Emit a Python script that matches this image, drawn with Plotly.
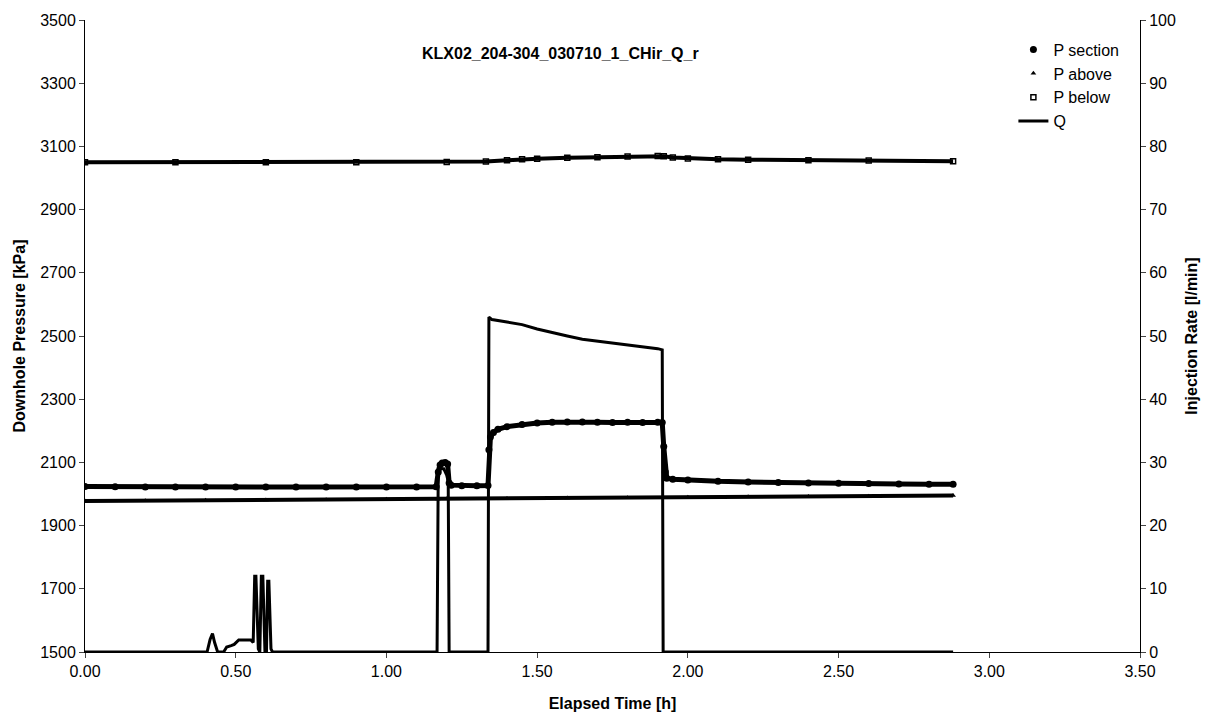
import plotly.graph_objects as go

# ---- data ----
ps_t = [0, 0.1, 0.2, 0.3, 0.4, 0.5, 0.6, 0.7, 0.8, 0.9, 1.0, 1.1, 1.165, 1.172, 1.178, 1.185, 1.195,
        1.203, 1.208, 1.215, 1.25, 1.3, 1.337, 1.340, 1.345, 1.355, 1.37, 1.4, 1.45, 1.5, 1.55, 1.6,
        1.65, 1.7, 1.75, 1.8, 1.85, 1.9, 1.915, 1.92, 1.925, 1.93, 1.95, 2.0, 2.1, 2.2, 2.3, 2.4,
        2.5, 2.6, 2.7, 2.8, 2.88]
ps_p = [2024, 2023, 2022, 2022, 2022, 2022, 2022, 2022, 2022, 2022, 2022, 2022, 2023, 2070, 2092, 2098, 2100,
        2095, 2035, 2028, 2026, 2026, 2027, 2140, 2180, 2195, 2205, 2213, 2220, 2225, 2227, 2228,
        2228, 2227, 2226, 2227, 2226, 2227, 2226, 2150, 2070, 2050, 2047, 2044, 2040, 2038, 2036, 2035,
        2034, 2033, 2032, 2031, 2031]

pa_t = [0, 0.2, 0.4, 0.6, 0.8, 1.0, 1.17, 1.2, 1.4, 1.6, 1.8, 2.0, 2.2, 2.4, 2.6, 2.88]
pa_p = [1978, 1979, 1980, 1981, 1982, 1983, 1984, 1985, 1986, 1987, 1988, 1990, 1991, 1992, 1993, 1995]

pb_t = [0, 0.3, 0.6, 0.9, 1.2, 1.33, 1.4, 1.45, 1.5, 1.6, 1.7, 1.8, 1.9, 1.92, 1.95, 2.0, 2.1, 2.2,
        2.4, 2.6, 2.88]
pb_p = [3050, 3050, 3050, 3050, 3051, 3052, 3056, 3059, 3061, 3064, 3066, 3068, 3070, 3069, 3065, 3062,
        3059, 3058, 3056, 3055, 3053]

q_t = [0, 0.405, 0.415, 0.423, 0.43, 0.44, 0.46, 0.47, 0.485, 0.495, 0.51, 0.55, 0.558, 0.563, 0.567,
       0.575, 0.58, 0.585, 0.59, 0.597, 0.602, 0.606, 0.61, 0.617, 0.622, 1.168, 1.172, 1.19, 1.2,
       1.205, 1.208, 1.337, 1.34, 1.35, 1.4, 1.45, 1.5, 1.55, 1.6, 1.65, 1.7, 1.75, 1.8, 1.85, 1.9,
       1.915, 1.918, 2.88]
q_v = [0, 0, 2.0, 2.9, 1.5, 0, 0, 0.8, 1.0, 1.2, 1.9, 1.9, 1.5, 12, 12,
       0.5, 0, 12, 12, 0, 0, 11.2, 11.2, 0.5, 0, 0, 29, 29, 28,
       27, 0, 0, 53, 52.6, 52.2, 51.8, 51.1, 50.5, 50.0, 49.5, 49.2, 48.9, 48.7, 48.4, 48.0,
       47.8, 0, 0]

title_text = "KLX02_204-304_030710_1_CHir_Q_r"

FONT = "Arial, 'Liberation Sans', sans-serif"

fig = go.Figure()
# data traces (legend shown via marker-only entries below, as in the reference)
fig.add_trace(go.Scatter(x=ps_t, y=ps_p, name="P section", mode="lines+markers", showlegend=False,
                         line=dict(color="black", width=5),
                         marker=dict(symbol="circle", size=7, color="black")))
fig.add_trace(go.Scatter(x=pa_t, y=pa_p, name="P above", mode="lines+markers", showlegend=False,
                         line=dict(color="black", width=4),
                         marker=dict(symbol="triangle-up", size=5, color="black")))
fig.add_trace(go.Scatter(x=pb_t, y=pb_p, name="P below", mode="lines+markers", showlegend=False,
                         line=dict(color="black", width=4),
                         marker=dict(symbol="square-open", size=5, color="black", line=dict(width=1.5))))
# legend entries
fig.add_trace(go.Scatter(x=[None], y=[None], name="P section", mode="markers",
                         marker=dict(symbol="circle", size=7, color="black")))
fig.add_trace(go.Scatter(x=[None], y=[None], name="P above", mode="markers",
                         marker=dict(symbol="triangle-up", size=5, color="black")))
fig.add_trace(go.Scatter(x=[None], y=[None], name="P below", mode="markers",
                         marker=dict(symbol="square-open", size=5, color="black", line=dict(width=1.5))))
fig.add_trace(go.Scatter(x=q_t, y=q_v, name="Q", mode="lines", yaxis="y2",
                         line=dict(color="black", width=3)))

fig.update_layout(
    width=1215, height=720,
    margin=dict(l=85, r=75, t=20, b=68),
    paper_bgcolor="white", plot_bgcolor="white",
    font=dict(family=FONT, size=16, color="black"),
    showlegend=True,
    legend=dict(x=0.88, y=0.98, xanchor="left", yanchor="top", bgcolor="rgba(0,0,0,0)",
                font=dict(size=16), tracegroupgap=0, itemwidth=30),
    xaxis=dict(range=[0, 3.5], tick0=0, dtick=0.5, tickformat=".2f", showgrid=False, zeroline=False,
               showline=True, linecolor="black", linewidth=1, ticks="outside", ticklen=5,
               title=dict(text="<b>Elapsed Time [h]</b>", font=dict(size=16), standoff=18)),
    yaxis=dict(range=[1500, 3500], tick0=1500, dtick=200, showgrid=False, zeroline=False,
               showline=True, linecolor="black", linewidth=1, ticks="outside", ticklen=5,
               title=dict(text="<b>Downhole Pressure [kPa]</b>", font=dict(size=16), standoff=10)),
    yaxis2=dict(range=[0, 100], tick0=0, dtick=10, overlaying="y", side="right", showgrid=False,
                zeroline=False, showline=True, linecolor="black", linewidth=1, ticks="outside",
                ticklen=5,
                title=dict(text="<b>Injection Rate [l/min]</b>", font=dict(size=16), standoff=10)),
)

fig.add_annotation(text="<b>" + title_text + "</b>", xref="paper", yref="paper",
                   x=0.451, y=0.947, xanchor="center", yanchor="middle", showarrow=False,
                   font=dict(size=16, family=FONT))

fig.write_html("out.html")
